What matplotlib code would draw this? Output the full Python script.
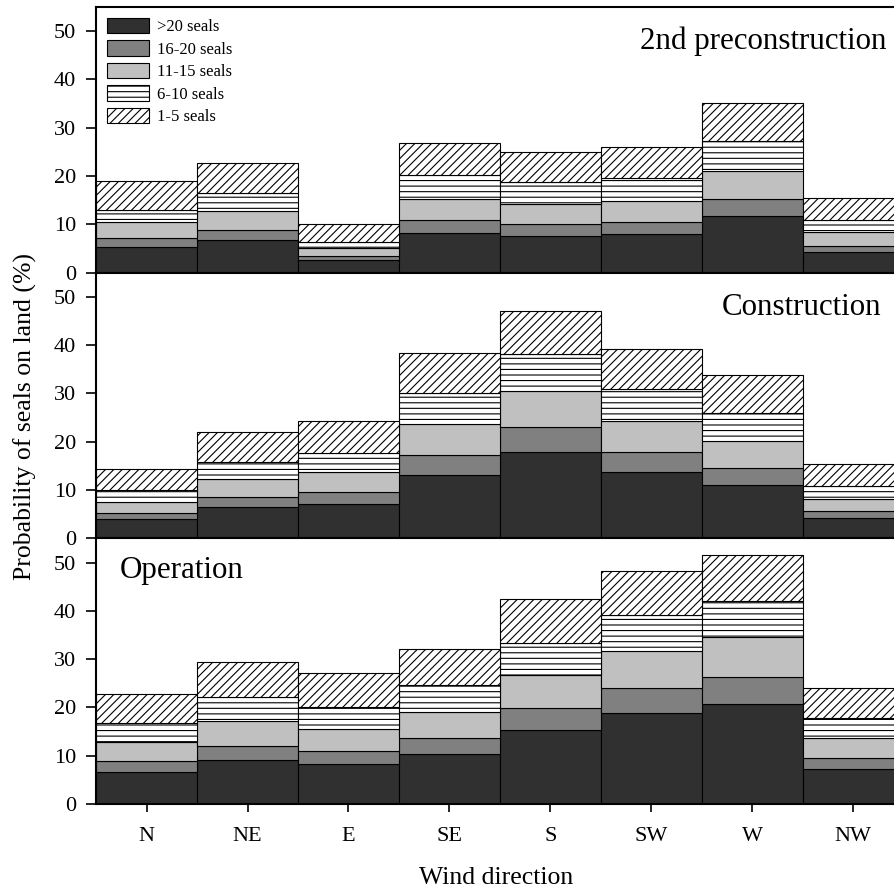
import numpy as np
import matplotlib
matplotlib.use("Agg")
import matplotlib.pyplot as plt

plt.rcParams["font.family"] = ["Liberation Serif", "DejaVu Serif"]
plt.rcParams["hatch.color"] = "black"
plt.rcParams["hatch.linewidth"] = 0.8

directions = ["N", "NE", "E", "SE", "S", "SW", "W", "NW"]
groups = [">20 seals", "16-20 seals", "11-15 seals", "6-10 seals", "1-5 seals"]
periods = ["2nd preconstruction", "Construction", "Operation"]

# probability (%) per direction, one list per group size (bottom to top of stack)
pre_gt20 = [5.4, 6.8, 2.6, 8.3, 7.5, 8.0, 11.8, 4.2]
pre_16_20 = [1.7, 2.1, 0.9, 2.6, 2.5, 2.5, 3.5, 1.4]
pre_11_15 = [3.3, 3.9, 1.6, 4.4, 4.2, 4.4, 5.8, 2.8]
pre_6_10 = [2.6, 3.7, 1.2, 5.0, 4.5, 4.7, 6.2, 2.5]
pre_1_5 = [6.0, 6.2, 3.7, 6.5, 6.3, 6.5, 7.8, 4.5]

con_gt20 = [4.0, 6.4, 7.2, 13.2, 17.8, 13.7, 11.0, 4.3]
con_16_20 = [1.2, 2.1, 2.4, 4.0, 5.2, 4.1, 3.6, 1.4]
con_11_15 = [2.4, 3.8, 4.2, 6.4, 7.5, 6.5, 5.5, 2.4]
con_6_10 = [2.5, 3.6, 3.8, 6.4, 7.6, 6.6, 5.9, 2.8]
con_1_5 = [4.2, 6.2, 6.7, 8.3, 9.0, 8.4, 7.8, 4.4]

op_gt20 = [6.6, 9.1, 8.3, 10.4, 15.3, 18.8, 20.7, 7.2]
op_16_20 = [2.3, 3.0, 2.7, 3.2, 4.5, 5.2, 5.5, 2.3]
op_11_15 = [3.9, 5.1, 4.5, 5.4, 6.9, 7.7, 8.4, 4.2]
op_6_10 = [3.9, 5.0, 4.6, 5.6, 6.7, 7.4, 7.4, 4.2]
op_1_5 = [6.0, 7.1, 7.0, 7.5, 9.0, 9.2, 9.6, 6.2]

data = [
    [pre_gt20, pre_16_20, pre_11_15, pre_6_10, pre_1_5],
    [con_gt20, con_16_20, con_11_15, con_6_10, con_1_5],
    [op_gt20, op_16_20, op_11_15, op_6_10, op_1_5],
]

styles = [
    dict(facecolor="#303030", hatch=None),
    dict(facecolor="#808080", hatch=None),
    dict(facecolor="#c0c0c0", hatch=None),
    dict(facecolor="white", hatch="---"),
    dict(facecolor="white", hatch="////"),
]

fig = plt.figure(figsize=(8.95, 8.9), dpi=100)
left, width = 0.1075, 0.902
heights = 0.2985
bottoms = [0.0966 + 2 * heights, 0.0966 + heights, 0.0966]

x = np.arange(len(directions))
axes = []
for i, period in enumerate(periods):
    ax = fig.add_axes([left, bottoms[i], width, heights])
    base = np.zeros(len(directions))
    for vals, st, lab in zip(data[i], styles, groups):
        ax.bar(x, vals, width=1.0, bottom=base, edgecolor="black",
               linewidth=0.8, label=lab, **st)
        base += np.array(vals)
    ax.set_xlim(-0.5, 7.5)
    ax.set_ylim(0, 55)
    ax.set_yticks([0, 10, 20, 30, 40, 50])
    ax.tick_params(axis="y", direction="out", length=7, width=1.2,
                   labelsize=16, pad=7.5)
    for s in ax.spines.values():
        s.set_linewidth(1.5)
    if i < 2:
        ax.set_xticks([])
    else:
        ax.set_xticks(x)
        ax.set_xticklabels(directions)
        ax.tick_params(axis="x", direction="out", length=6, width=1.2,
                       labelsize=16, pad=10.5)
    axes.append(ax)

axes[0].text(0.979, 0.841, periods[0], transform=axes[0].transAxes,
             ha="right", va="baseline", fontsize=22.3)
axes[1].text(0.973, 0.841, periods[1], transform=axes[1].transAxes,
             ha="right", va="baseline", fontsize=22.3)
axes[2].text(0.0295, 0.85, periods[2], transform=axes[2].transAxes,
             ha="left", va="baseline", fontsize=22.3)

axes[0].legend(loc="upper left", bbox_to_anchor=(0.0, 1.0), frameon=False,
               fontsize=12, handlelength=2.5, handleheight=1.05,
               labelspacing=0.3, handletextpad=0.5, borderaxespad=0.25)

fig.text(0.028, 0.5315, "Probability of seals on land (%)",
         rotation=90, ha="center", va="center", fontsize=18.5)
fig.text(left + width * 0.5 / 1.0 - 0.004, 6 / 890, "Wind direction",
         ha="center", va="baseline", fontsize=18.5)

fig.savefig("out.png", dpi=100)
